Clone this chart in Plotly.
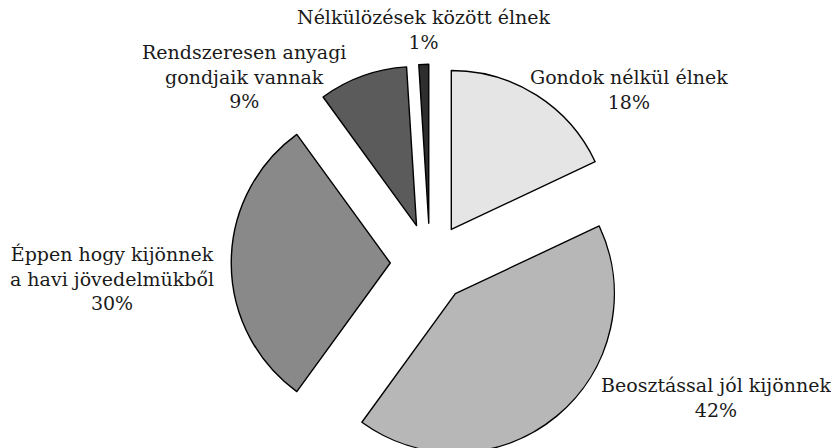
import plotly.graph_objects as go

# ---- data ----
categories = [
    "Gondok nélkül élnek",
    "Beosztással jól kijönnek",
    "Éppen hogy kijönnek<br>a havi jövedelmükből",
    "Rendszeresen anyagi<br>gondjaik vannak",
    "Nélkülözések között élnek",
]
values = [18, 42, 30, 9, 1]

# ---- styling (not data) ----
colors = ["#e5e5e5", "#b7b7b7", "#898989", "#5b5b5b", "#2e2e2e"]
label_pos_px = [(629, 89), (716, 397), (112, 278), (244, 76), (424, 30)]  # label block centres

W, H = 831, 470
cx, cy, r, pull = 430, 263, 159, 0.25
half = r * (1 + pull)

fig = go.Figure(
    go.Pie(
        labels=categories,
        values=values,
        sort=False,
        direction="clockwise",
        rotation=0,
        pull=[pull] * len(values),
        marker=dict(colors=colors, line=dict(color="#000000", width=1.4)),
        textinfo="none",
        hoverinfo="label+percent",
        domain=dict(
            x=[(cx - half) / W, (cx + half) / W],
            y=[(H - (cy + half)) / H, (H - (cy - half)) / H],
        ),
    )
)

total = sum(values)
for cat, val, (px, py) in zip(categories, values, label_pos_px):
    fig.add_annotation(
        text=f"{cat}<br>{round(100 * val / total)}%",
        x=px / W,
        y=1 - py / H,
        xref="paper",
        yref="paper",
        xanchor="center",
        yanchor="middle",
        align="center",
        showarrow=False,
        font=dict(family="DejaVu Serif", size=19, color="#1a1a1a"),
    )

fig.update_layout(
    width=W,
    height=H,
    margin=dict(l=0, r=0, t=0, b=0),
    paper_bgcolor="white",
    plot_bgcolor="white",
    showlegend=False,
)

fig.write_html(
    "out.html",
    config={"displayModeBar": False},
    post_script=(
        "document.body.style.margin='0';"
        "document.body.style.overflow='hidden';"
        "document.documentElement.style.overflow='hidden';"
    ),
)
